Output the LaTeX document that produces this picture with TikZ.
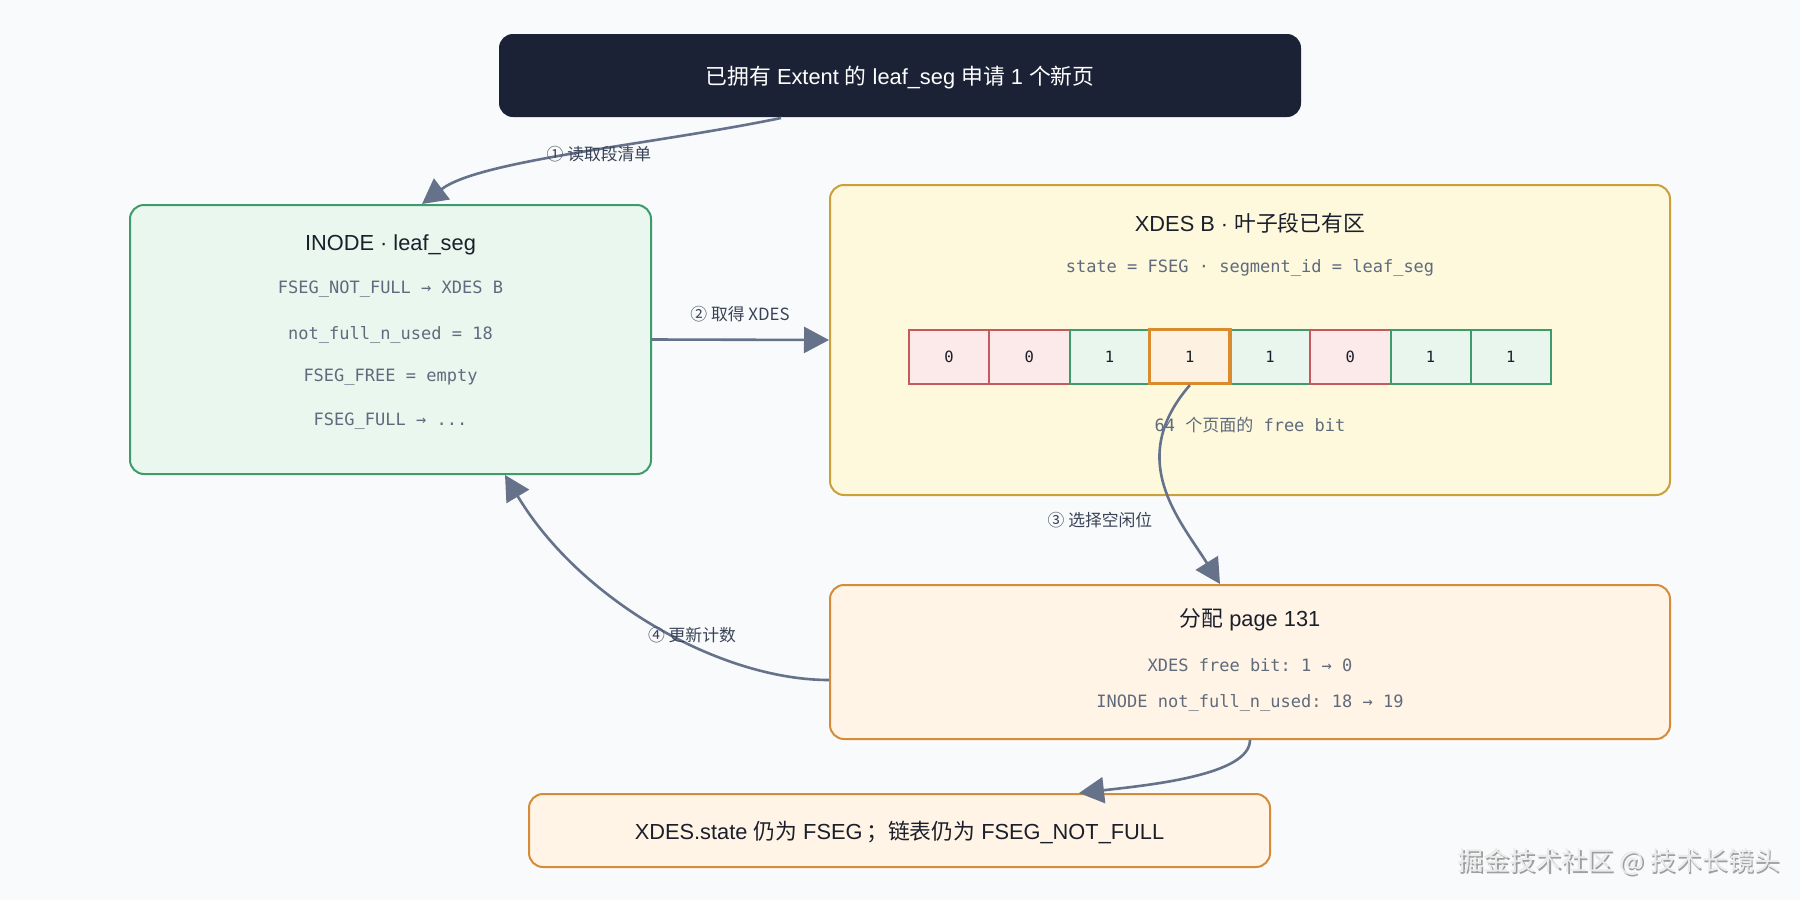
\documentclass[tikz,border=0pt]{standalone}
\usepackage{fontspec}
\setmainfont{Liberation Sans}
\setmonofont{DejaVu Sans Mono}
\newfontfamily\cjk{Noto Sans CJK SC}
\usetikzlibrary{arrows.meta,calc}
\definecolor{bgc}{HTML}{F8FAFC}
\definecolor{darkc}{HTML}{1B2236}
\definecolor{inodefill}{HTML}{EAF7EF}
\definecolor{inodedraw}{HTML}{3E9B6C}
\definecolor{xdesfill}{HTML}{FEF9DC}
\definecolor{xdesdraw}{HTML}{C9A03A}
\definecolor{allocfill}{HTML}{FFF4E5}
\definecolor{allocdraw}{HTML}{D48C3A}
\definecolor{redfill}{HTML}{FCE9EA}
\definecolor{reddraw}{HTML}{C5595C}
\definecolor{greenfill}{HTML}{E8F6EE}
\definecolor{hifill}{HTML}{FDF2E2}
\definecolor{hidraw}{HTML}{D98B2E}
\definecolor{arrowc}{HTML}{65728A}
\definecolor{labc}{HTML}{3A4356}
\definecolor{monoc}{HTML}{5F6B7D}
\definecolor{titlec}{HTML}{1A1F2B}
\tikzset{
  box/.style={rounded corners=14pt, line width=2pt, inner sep=0pt},
  titletext/.style={font=\fontsize{21.8}{26}\selectfont, text=titlec, inner sep=0pt},
  monotext/.style={font=\ttfamily\fontsize{17}{20}\selectfont, text=monoc, inner sep=0pt},
  labtext/.style={font=\cjk\fontsize{16.8}{20}\selectfont, text=labc, inner sep=0pt},
  bitcell/.style={minimum width=80.25pt, minimum height=54pt, inner sep=0pt, line width=2pt,
     font=\ttfamily\fontsize{15.5}{18}\selectfont, text=titlec},
  cellr/.style={bitcell, fill=redfill, draw=reddraw},
  cellg/.style={bitcell, fill=greenfill, draw=inodedraw},
  cellh/.style={bitcell, fill=hifill, draw=hidraw, line width=3.2pt},
  flow/.style={draw=arrowc, line width=2.6pt, -{Triangle[length=25pt,width=26pt]}},
}
\begin{document}
\begin{tikzpicture}[x=1pt,y=-1pt]
\useasboundingbox (0,0) rectangle (1800,900);
\fill[bgc] (0,0) rectangle (1800,900);

% boxes
\node[box, fill=darkc, minimum width=802pt, minimum height=83pt] (top) at (900,75.5) {};
\node[box, fill=inodefill, draw=inodedraw, minimum width=521pt, minimum height=269pt] (inode) at (390.5,339.5) {};
\node[box, fill=xdesfill, draw=xdesdraw, minimum width=840pt, minimum height=310pt] (xdes) at (1250,340) {};
\node[box, fill=allocfill, draw=allocdraw, minimum width=840pt, minimum height=154pt] (alloc) at (1250,662) {};
\node[box, fill=allocfill, draw=allocdraw, minimum width=741pt, minimum height=73pt] (bottom) at (899.5,830.5) {};

% top text
\node[titletext, text=white] (toptext) at (900,77.5) {{\cjk 已拥有} Extent {\cjk 的} leaf\_seg {\cjk 申请} 1 {\cjk 个新页}};

% INODE texts
\node[titletext] (inodetitle) at (390.5,244.5) {INODE · leaf\_seg};
\node[monotext] (inode1) at (390.5,289.5) {FSEG\_NOT\_FULL → XDES B};
\node[monotext] (inode2) at (390.5,334.5) {not\_full\_n\_used = 18};
\node[monotext] (inode3) at (390.5,377.5) {FSEG\_FREE = empty};
\node[monotext] (inode4) at (390.5,421.5) {FSEG\_FULL → ...};

% XDES texts
\node[titletext] (xdestitle) at (1250,223.5) {XDES B · {\cjk 叶子段已有区}};
\node[monotext] (xdessub) at (1250,267.5) {state = FSEG · segment\_id = leaf\_seg};
\node[monotext] (xdescap) at (1250,425) {64 {\cjk 个页面的} free bit};

% bit cells
\node[cellr] (c1) at (949.125,356.5) {0};
\node[cellr] (c2) at (1029.375,356.5) {0};
\node[cellg] (c3) at (1109.625,356.5) {1};
\node[cellg] (c5) at (1270.125,356.5) {1};
\node[cellr] (c6) at (1350.375,356.5) {0};
\node[cellg] (c7) at (1430.625,356.5) {1};
\node[cellg] (c8) at (1510.875,356.5) {1};
\node[cellh] (c4) at (1189.875,356.5) {1};

% alloc texts
\node[titletext] (alloctitle) at (1250,619.5) {{\cjk 分配} page 131};
\node[monotext] (alloc1) at (1250,665.5) {XDES free bit: 1 → 0};
\node[monotext] (alloc2) at (1250,702.5) {INODE not\_full\_n\_used: 18 → 19};

% bottom text
\node[titletext] (bottomtext) at (899.5,832) {XDES.state {\cjk 仍为} FSEG\,{\cjk ；链表仍为} FSEG\_NOT\_FULL};

% connectors
\draw[flow] ([xshift=-119pt]top.south) .. controls (650,145) and (480,160) .. ([xshift=31.5pt]inode.north);
\draw[flow] (inode.east) -- (xdes.west);
\draw[flow] (c4.south) .. controls (1125,460) and (1180,520) .. ([xshift=-30pt]alloc.north);
\draw[flow] ([yshift=-18pt]alloc.west) .. controls (720,680) and (580,600) .. ([xshift=114.5pt]inode.south);
\draw[flow] (alloc.south) .. controls (1250,775) and (1150,785) .. ([xshift=179.5pt]bottom.north);

% labels
\node[labtext] (lab1) at (599,154) {① 读取段清单};
\node[labtext] (lab2) at (740,314) {② 取得 XDES};
\node[labtext] (lab3) at (1100,520) {③ 选择空闲位};
\node[labtext] (lab4) at (692,635) {④ 更新计数};

% watermark
\node[font=\cjk\fontsize{26}{30}\selectfont, text=gray!75, inner sep=0pt] (wmshadow) at (1620.5,863.5) {掘金技术社区 @ 技术长镜头};
\node[font=\cjk\fontsize{26}{30}\selectfont, text=white!92!black, inner sep=0pt] (wm) at (1619,862) {掘金技术社区 @ 技术长镜头};
\end{tikzpicture}
\end{document}
